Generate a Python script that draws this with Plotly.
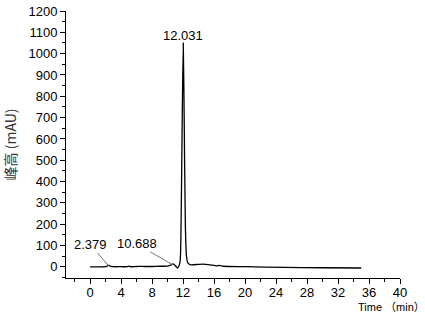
import plotly.graph_objects as go

time_min = [0, 1, 2, 2.2, 2.4, 2.6, 3, 4, 4.8, 5, 5.2, 6, 7, 8, 9, 10, 10.4, 10.7, 10.95, 11.3,
            11.6, 11.75, 11.9, 12.031, 12.15, 12.3, 12.45, 12.6, 13, 14, 14.5, 15.5, 16.3, 16.7,
            17.2, 20, 25, 30, 35]
height_mau = [0, 0, 1, 4, 8, 4, 1, 1, 1, 4, 1, 2, 2, 2, 3, 4, 8, 14, 8, -5,
              20, 200, 700, 1050, 700, 200, 50, 20, 10, 12, 13, 10, 5, 7,
              3, 1, -2, -4, -5]

peak_labels = ["2.379", "10.688", "12.031"]

x_ticks = list(range(0, 41, 4))
y_ticks = list(range(0, 1201, 100))

fig = go.Figure()
fig.add_trace(go.Scatter(x=time_min, y=height_mau, mode="lines",
                         line=dict(color="black", width=1.3, shape="spline", smoothing=0.6),
                         hoverinfo="skip", cliponaxis=False))

font = dict(family="Liberation Sans, Arial, sans-serif", size=13, color="black")

fig.add_annotation(x=2.4, y=5, text=peak_labels[0], showarrow=True, arrowhead=0,
                   arrowwidth=1, arrowcolor="#777", ax=-18, ay=-21, font=font, borderpad=0)
fig.add_annotation(x=10.65, y=10, text=peak_labels[1], showarrow=True, arrowhead=0,
                   arrowwidth=1, arrowcolor="#777", ax=-36, ay=-21, font=font, borderpad=0)
fig.add_annotation(x=12.031, y=1050, text=peak_labels[2], showarrow=False,
                   yanchor="bottom", yshift=-2, font=font)
fig.add_annotation(xref="paper", yref="paper", x=1.08, y=-0.08, xanchor="right", yanchor="top",
                   text="Time （min）", showarrow=False,
                   font=dict(family="Liberation Sans, Noto Sans CJK SC, sans-serif", size=11, color="black"))

axis_common = dict(showgrid=False, zeroline=False, showline=True, linecolor="black", linewidth=1,
                   ticks="outside", ticklen=5, tickwidth=1, tickcolor="black",
                   tickfont=font, mirror=False, automargin=False)

fig.update_xaxes(range=[-3.1, 40], tickvals=x_ticks, ticklabelstandoff=-3,
                 minor=dict(ticks="outside", ticklen=3, dtick=2, tick0=0, tickcolor="black"),
                 **axis_common)
fig.update_yaxes(range=[-52, 1200], tickvals=y_ticks,
                 minor=dict(ticks="outside", ticklen=3, dtick=50, tick0=0, tickcolor="black"),
                 title=dict(text="峰高 (mAU)", standoff=8,
                            font=dict(family="Noto Sans CJK SC, Liberation Sans, sans-serif",
                                      size=14, color="#333")),
                 **axis_common)

fig.update_layout(width=425, height=313, margin=dict(l=66, r=25, t=11, b=35),
                  plot_bgcolor="white", paper_bgcolor="white", showlegend=False)

fig.write_html("out.html", config={"displayModeBar": False},
               post_script="document.body.style.margin='0';document.body.style.overflow='hidden';")
